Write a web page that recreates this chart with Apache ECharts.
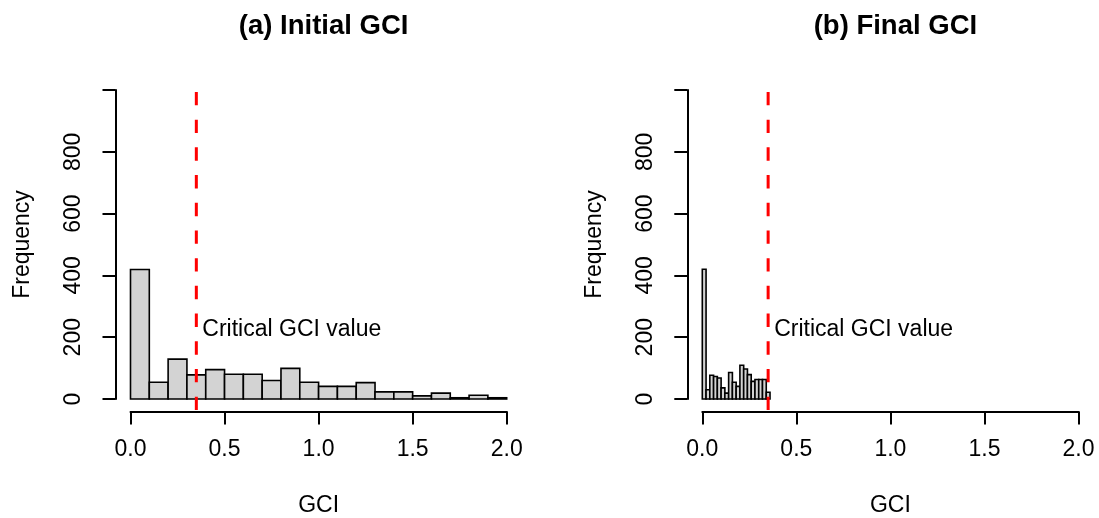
<!DOCTYPE html>
<html>
<head>
<meta charset="utf-8">
<script src="https://cdn.jsdelivr.net/npm/echarts@6/dist/echarts.min.js"></script>
<style>
  html, body { margin: 0; padding: 0; background: #fff; }
  #grafico { width: 1099px; height: 518px; }
</style>
</head>
<body>
<div id="grafico"></div>
<script>
// Datos
// (a) GCI inicial: bins de 0.1
const binsInicialInicio = [0.0, 0.1, 0.2, 0.3, 0.4, 0.5, 0.6, 0.7, 0.8, 0.9, 1.0, 1.1, 1.2, 1.3, 1.4, 1.5, 1.6, 1.7, 1.8, 1.9];
const frecInicial = [419, 54, 129, 78, 95, 80, 80, 60, 99, 54, 41, 41, 53, 23, 23, 10, 19, 4, 12, 4];
const anchoInicial = 0.1;

// (b) GCI final: bins de 0.02
const binsFinalInicio = [0.00, 0.02, 0.04, 0.06, 0.08, 0.10, 0.12, 0.14, 0.16, 0.18, 0.20, 0.22, 0.24, 0.26, 0.28, 0.30, 0.32, 0.34];
const frecFinal = [420, 30, 77, 73, 68, 36, 19, 86, 54, 41, 109, 97, 79, 57, 63, 63, 63, 22];
const anchoFinal = 0.02;

const gciCritico = 0.35;
const alturaEtiqueta = 225;
const textoEtiqueta = 'Critical GCI value';
const titulos = ['(a) Initial GCI', '(b) Final GCI'];
const ticksX = [0, 0.5, 1.0, 1.5, 2.0];
const ticksY = [0, 200, 400, 600, 800, 1000];

const fuente = 'Liberation Sans, Arial, Helvetica, sans-serif';

// PROCESAMIENTO
function procesarBins(inicios, frecs, ancho) {
    return inicios.map((x, i) => [x, +(x + ancho).toFixed(3), frecs[i]]);
}

function dibujarBarra(params, api) {
    const p0 = api.coord([api.value(0), 0]);
    const p1 = api.coord([api.value(1), api.value(2)]);
    return {
        type: 'rect',
        shape: { x: p0[0], y: p1[1], width: p1[0] - p0[0], height: p0[1] - p1[1] },
        style: { fill: '#D3D3D3', stroke: '#000', lineWidth: 1.6 }
    };
}

function dibujarEtiqueta(params, api) {
    const p = api.coord([api.value(0), api.value(1)]);
    return {
        type: 'text',
        x: p[0] + 6,
        y: p[1],
        style: {
            text: textoEtiqueta,
            font: '23px ' + fuente,
            fill: '#000',
            align: 'left',
            verticalAlign: 'middle'
        }
    };
}

function crearEjeX(idx) {
    return {
        type: 'value',
        gridIndex: idx,
        min: ticksX[0],
        max: ticksX[ticksX.length - 1],
        interval: 0.5,
        offset: 12.4,
        name: 'GCI',
        nameLocation: 'middle',
        nameGap: 83,
        nameTextStyle: { fontFamily: fuente, fontSize: 23, color: '#000' },
        axisLine: { show: true, onZero: false, lineStyle: { color: '#000', width: 2 } },
        axisTick: { show: true, length: 13, lineStyle: { color: '#000', width: 2 } },
        axisLabel: {
            fontFamily: fuente, fontSize: 23, color: '#000', margin: 27,
            formatter: v => v.toFixed(1)
        },
        splitLine: { show: false }
    };
}

function crearEjeY(idx) {
    return {
        type: 'value',
        gridIndex: idx,
        min: ticksY[0],
        max: ticksY[ticksY.length - 1],
        interval: 200,
        offset: 15,
        name: 'Frequency',
        nameLocation: 'middle',
        nameGap: 81,
        nameRotate: 90,
        nameTextStyle: { fontFamily: fuente, fontSize: 23, color: '#000' },
        axisLine: { show: true, onZero: false, lineStyle: { color: '#000', width: 2 } },
        axisTick: { show: true, length: 13, lineStyle: { color: '#000', width: 2 } },
        axisLabel: {
            fontFamily: fuente, fontSize: 23, color: '#000', margin: 30, rotate: 90,
            formatter: v => (v === 1000 ? '' : String(v))
        },
        splitLine: { show: false }
    };
}

function lineaCritica(idx) {
    return {
        type: 'line',
        xAxisIndex: idx,
        yAxisIndex: idx,
        data: [[gciCritico, 1040], [gciCritico, -40]],
        clip: false,
        symbol: 'none',
        silent: true,
        z: 5,
        lineStyle: { color: '#FF0000', width: 3, type: [13.4, 14.3], dashOffset: 13.4 }
    };
}

function crearGrafico() {
    const centros = [318.6, 890.4];
    return {
        animation: false,
        backgroundColor: '#fff',
        title: titulos.map((t, i) => ({
            text: t,
            left: centros[i],
            top: 7,
            textAlign: 'center',
            textStyle: { fontFamily: fuente, fontSize: 27.5, fontWeight: 'bold', color: '#000' }
        })),
        grid: [
            { left: 130.5, top: 90, width: 376.2, height: 309, containLabel: false, outerBoundsMode: 'none' },
            { left: 702.3, top: 90, width: 376.2, height: 309, containLabel: false, outerBoundsMode: 'none' }
        ],
        xAxis: [crearEjeX(0), crearEjeX(1)],
        yAxis: [crearEjeY(0), crearEjeY(1)],
        series: [
            {
                type: 'custom', xAxisIndex: 0, yAxisIndex: 0, clip: false,
                renderItem: dibujarBarra,
                data: procesarBins(binsInicialInicio, frecInicial, anchoInicial)
            },
            {
                type: 'custom', xAxisIndex: 1, yAxisIndex: 1, clip: false,
                renderItem: dibujarBarra,
                data: procesarBins(binsFinalInicio, frecFinal, anchoFinal)
            },
            lineaCritica(0),
            lineaCritica(1),
            {
                type: 'custom', xAxisIndex: 0, yAxisIndex: 0, clip: false, z: 6,
                renderItem: dibujarEtiqueta,
                data: [[gciCritico, alturaEtiqueta]]
            },
            {
                type: 'custom', xAxisIndex: 1, yAxisIndex: 1, clip: false, z: 6,
                renderItem: dibujarEtiqueta,
                data: [[gciCritico, alturaEtiqueta]]
            }
        ]
    };
}

function iniciar() {
    const chartDom = document.getElementById('grafico');
    const myChart = echarts.init(chartDom, null, { renderer: 'canvas' });
    myChart.setOption(crearGrafico());
}

iniciar();
</script>
</body>
</html>
